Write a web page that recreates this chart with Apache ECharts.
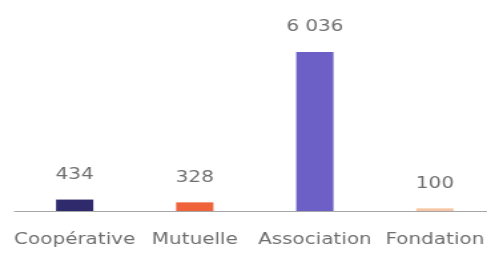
<!DOCTYPE html>
<html>
<head>
<meta charset="utf-8">
<script src="https://cdn.jsdelivr.net/npm/echarts@6/dist/echarts.min.js"></script>
<style>
	html, body { margin: 0; padding: 0; background: #fff; overflow: hidden; }
	/* le graphique d'origine est étiré horizontalement : on reproduit l'étirement */
	#chart { width: 366px; height: 253px; transform: scaleX(1.3306); transform-origin: 0 0; }
</style>
</head>
<body>
<div id="chart"></div>
<script>
	// données
	var categories = ['Coopérative', 'Mutuelle', 'Association', 'Fondation'];
	var values = [434, 328, 6036, 100];
	var colors = ['#2f2a6b', '#ee633a', '#6c60c6', '#f6c6a4'];

	function fmt(v){
		// séparateur de milliers : espace
		return String(v).replace(/\B(?=(\d{3})+(?!\d))/g, ' ');
	}

	var chart = echarts.init(document.getElementById('chart'));
	chart.setOption({
		animation: false,
		grid: { left: 11, top: 52, bottom: 42, right: -6, outerBoundsMode: 'none' },
		xAxis: {
			type: 'category',
			data: categories,
			axisTick: { show: false },
			axisLine: { lineStyle: { color: '#a6a6a6', width: 1 } },
			axisLabel: { interval: 0, color: '#6e6e6e', fontSize: 15, margin: 22, fontFamily: 'DejaVu Sans' }
		},
		yAxis: {
			type: 'value',
			min: 0,
			max: function(v){ return v.max; },
			show: false,
			splitLine: { show: false }
		},
		series: [{
			type: 'bar',
			barWidth: 28,
			data: values.map(function(v, i){
				return { value: v, itemStyle: { color: colors[i] } };
			}),
			label: {
				show: true,
				position: 'top',
				distance: 17,
				color: '#6e6e6e',
				fontSize: 15,
				fontFamily: 'DejaVu Sans',
				formatter: function(p){ return fmt(p.value); }
			}
		}]
	});
</script>
</body>
</html>
